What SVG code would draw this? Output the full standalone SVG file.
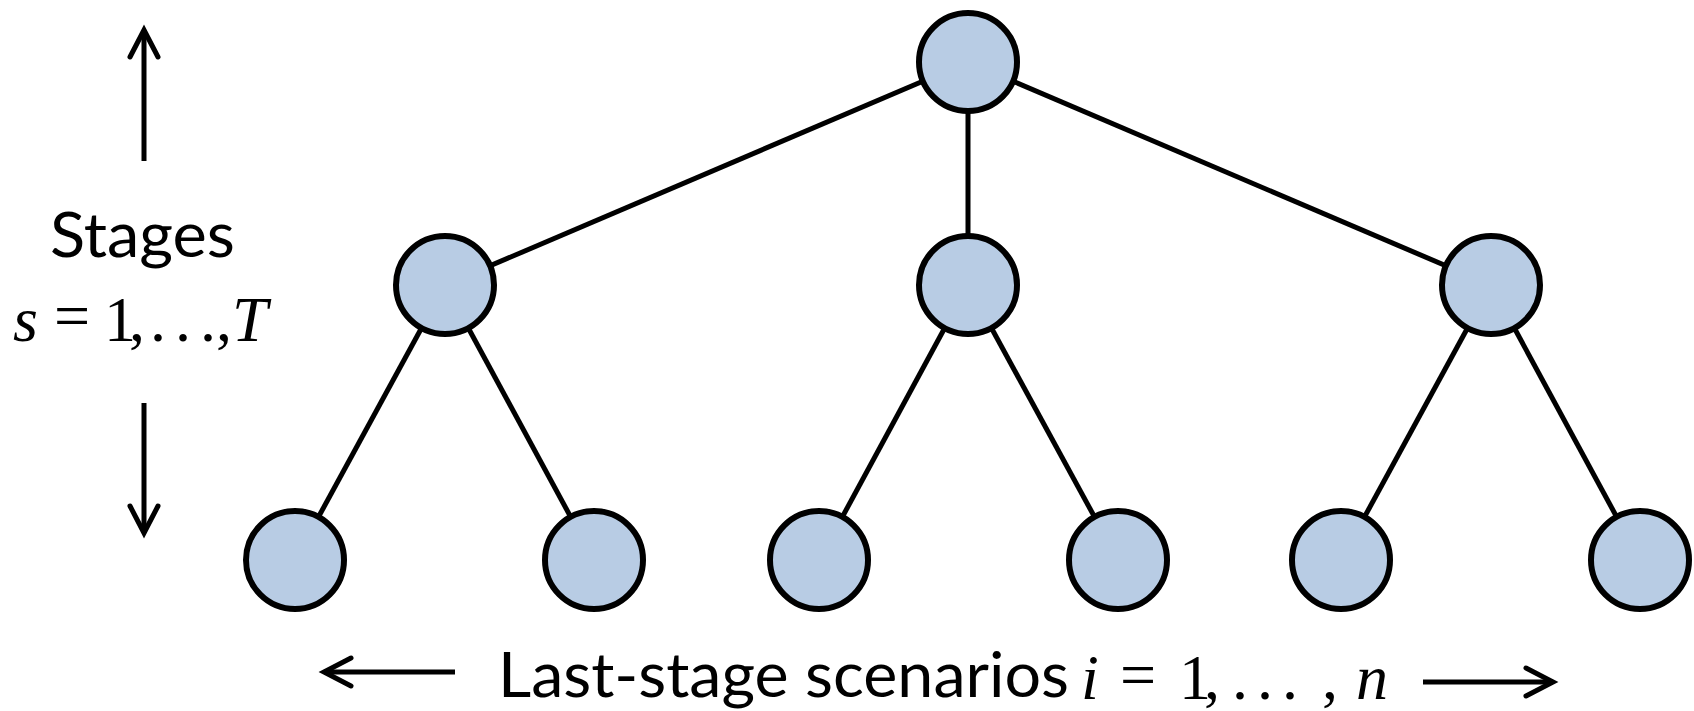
<svg xmlns="http://www.w3.org/2000/svg" width="1694" height="711" viewBox="0 0 1694 711">
  <style>
    .node { fill: #b8cce4; stroke: #000; stroke-width: 6; }
    .edge { stroke: #000; stroke-width: 5; fill: none; }
    .axis { stroke: #000; stroke-width: 5; fill: none; }
    .label { font-family: "Lato", "Liberation Sans", sans-serif; font-size: 61px; fill: #000; }
    .math { font-family: "Liberation Serif", "DejaVu Serif", serif; font-size: 64px; fill: #000; }
    .it { font-style: italic; }
    .tight { letter-spacing: -7px; }
  </style>
  <defs>
    <marker id="chevron" viewBox="-32 -18 36 36" refX="0" refY="0" markerWidth="36" markerHeight="36" markerUnits="userSpaceOnUse" orient="auto" overflow="visible">
      <path d="M-27,-14 L0,0 L-27,14" fill="none" stroke="#000" stroke-width="5" stroke-linecap="round" stroke-linejoin="miter"/>
    </marker>
  </defs>

  <!-- tree edges, drawn beneath the nodes -->
  <g id="connectors">
    <line class="edge" x1="968" y1="62" x2="445" y2="285"/>
    <line class="edge" x1="968" y1="62" x2="968" y2="285"/>
    <line class="edge" x1="968" y1="62" x2="1491" y2="285"/>
    <line class="edge" x1="445" y1="285" x2="295" y2="560"/>
    <line class="edge" x1="445" y1="285" x2="594" y2="560"/>
    <line class="edge" x1="968" y1="285" x2="819" y2="560"/>
    <line class="edge" x1="968" y1="285" x2="1118" y2="560"/>
    <line class="edge" x1="1491" y1="285" x2="1341" y2="560"/>
    <line class="edge" x1="1491" y1="285" x2="1640" y2="560"/>
  </g>

  <!-- root -->
  <g id="root"><circle class="node" cx="968" cy="62" r="49"/></g>
  <!-- second stage -->
  <g id="stage2-a"><circle class="node" cx="445" cy="285" r="49"/></g>
  <g id="stage2-b"><circle class="node" cx="968" cy="285" r="49"/></g>
  <g id="stage2-c"><circle class="node" cx="1491" cy="285" r="49"/></g>
  <!-- last-stage scenarios -->
  <g id="leaf-1"><circle class="node" cx="295" cy="560" r="49"/></g>
  <g id="leaf-2"><circle class="node" cx="594" cy="560" r="49"/></g>
  <g id="leaf-3"><circle class="node" cx="819" cy="560" r="49"/></g>
  <g id="leaf-4"><circle class="node" cx="1118" cy="560" r="49"/></g>
  <g id="leaf-5"><circle class="node" cx="1341" cy="560" r="49"/></g>
  <g id="leaf-6"><circle class="node" cx="1640" cy="560" r="49"/></g>

  <!-- stage axis on the left -->
  <g id="stage-axis">
    <line class="axis" x1="144" y1="161" x2="144" y2="30" marker-end="url(#chevron)"/>
    <line class="axis" x1="144" y1="403" x2="144" y2="533" marker-end="url(#chevron)"/>
    <text class="label" x="50" y="257" textLength="185" lengthAdjust="spacingAndGlyphs">Stages</text>
    <text class="math" y="341"><tspan class="it" x="13">s</tspan><tspan x="54" dy="-4">=</tspan><tspan class="tight" x="104" dy="4">1,</tspan><tspan x="150">.</tspan><tspan x="175">.</tspan><tspan x="200">.</tspan><tspan x="216">,</tspan><tspan class="it" x="232">T</tspan></text>
  </g>

  <!-- scenario axis along the bottom -->
  <g id="scenario-axis">
    <line class="axis" x1="455" y1="672" x2="324" y2="672" marker-end="url(#chevron)"/>
    <line class="axis" x1="1423" y1="682" x2="1553" y2="682" marker-end="url(#chevron)"/>
    <text class="label" x="498" y="697" textLength="571" lengthAdjust="spacingAndGlyphs">Last-stage scenarios</text>
    <text class="math" y="699"><tspan class="it" x="1081">i</tspan><tspan x="1120" dy="-3">=</tspan><tspan class="tight" x="1179" dy="3">1,</tspan><tspan x="1232">.</tspan><tspan x="1257">.</tspan><tspan x="1282">.</tspan><tspan x="1322">,</tspan><tspan class="it" x="1356">n</tspan></text>
  </g>
</svg>
